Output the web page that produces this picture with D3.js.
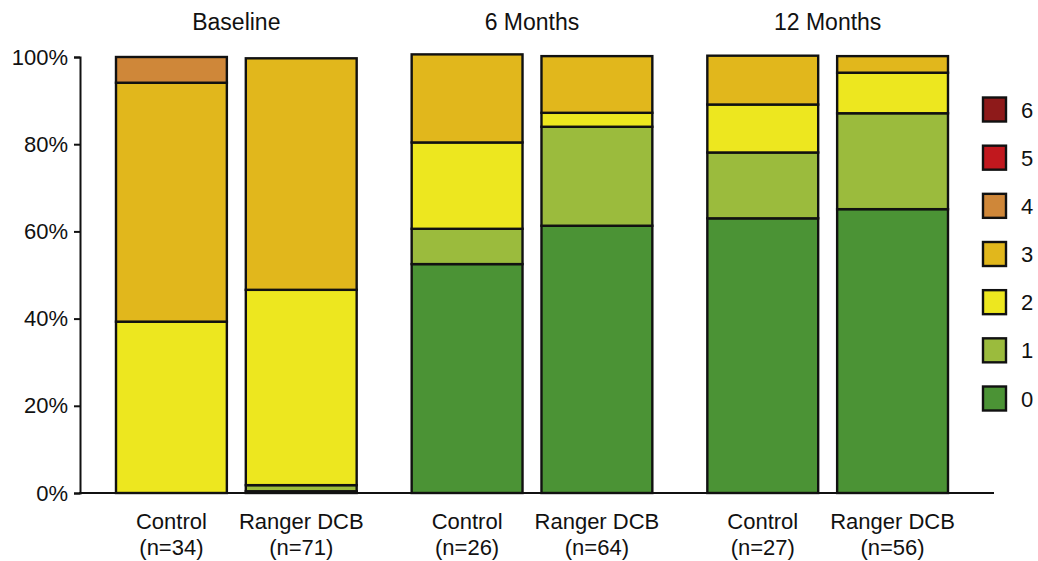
<!DOCTYPE html>
<html>
<head>
<meta charset="utf-8">
<script src="https://cdn.jsdelivr.net/npm/d3@7"></script>
<style>
  html, body { margin: 0; padding: 0; background: #fff; }
  svg text { font-family: "Liberation Sans", Arial, sans-serif; fill: #111; }
</style>
</head>
<body>
<svg id="chart" width="1038" height="561"></svg>
<script>
// Timepoints and treatment arms
const groups = ["Baseline", "6 Months", "12 Months"];
const arms = ["Control", "Ranger DCB"];
const armCounts = [
  ["(n=34)", "(n=71)"],
  ["(n=26)", "(n=64)"],
  ["(n=27)", "(n=56)"]
];

// Score categories, bottom of the stack first
const scores = ["0", "1", "2", "3", "4", "5", "6"];
const scoreColors = ["#4b9335", "#9bbb3d", "#ede71f", "#e1b71c", "#cf8739", "#c1181e", "#8e1a1a"];

// Percent of patients per score, one entry per bar:
// Baseline Control, Baseline Ranger, 6M Control, 6M Ranger, 12M Control, 12M Ranger
const score0 = [0, 0.4, 52.5, 61.3, 63.0, 65.1];
const score1 = [0, 1.4, 8.1, 22.7, 15.1, 22.0];
const score2 = [39.3, 44.8, 19.8, 3.2, 11.0, 9.3];
const score3 = [54.8, 53.1, 20.2, 13.0, 11.2, 3.8];
const score4 = [5.9, 0, 0, 0, 0, 0];
const score5 = [0, 0, 0, 0, 0, 0];
const score6 = [0, 0, 0, 0, 0, 0];

const yTicks = [0, 20, 40, 60, 80, 100];

const seriesValues = [score0, score1, score2, score3, score4, score5, score6];

// One row per bar for the stack layout
const rows = [];
groups.forEach((g, gi) => {
  arms.forEach((a, ai) => {
    const idx = gi * arms.length + ai;
    const row = { group: g, arm: a };
    scores.forEach((s, si) => { row[s] = seriesValues[si][idx]; });
    rows.push(row);
  });
});

const svg = d3.select("#chart");
const FS = 22;

const y = d3.scaleLinear().domain([0, 100]).range([493, 57]);
const x0 = d3.scaleBand().domain(groups).range([116, 948]).paddingInner(0.186).paddingOuter(0);
const x1 = d3.scaleBand().domain(arms).range([0, x0.bandwidth()]).paddingInner(0.146);

const stack = d3.stack().keys(scores);
const layers = stack(rows);

// Stacked bars
svg.append("g")
  .selectAll("g")
  .data(layers)
  .join("g")
  .attr("fill", (d, i) => scoreColors[i])
  .selectAll("rect")
  .data(d => d.filter(p => p[1] - p[0] > 0))
  .join("rect")
  .attr("x", p => x0(p.data.group) + x1(p.data.arm))
  .attr("y", p => y(p[1]))
  .attr("width", x1.bandwidth())
  .attr("height", p => y(p[0]) - y(p[1]))
  .attr("stroke", "#111")
  .attr("stroke-width", 2.4);

// Y axis
const yAxis = d3.axisLeft(y)
  .tickValues(yTicks)
  .tickFormat(d => d + "%")
  .tickSize(6)
  .tickPadding(6);

const yg = svg.append("g")
  .attr("transform", "translate(80,0)")
  .call(yAxis);
yg.select(".domain").attr("stroke", "#111").attr("stroke-width", 2);
yg.selectAll(".tick line").attr("stroke", "#111").attr("stroke-width", 2);
yg.selectAll(".tick text")
  .attr("font-size", FS)
  .attr("font-family", "Liberation Sans, Arial, sans-serif")
  .attr("fill", "#111");

// X baseline
svg.append("line")
  .attr("x1", 79).attr("x2", 994)
  .attr("y1", y(0)).attr("y2", y(0))
  .attr("stroke", "#111")
  .attr("stroke-width", 2);

// Group titles
svg.append("g")
  .selectAll("text")
  .data(groups)
  .join("text")
  .attr("x", g => x0(g) + x0.bandwidth() / 2)
  .attr("y", 30)
  .attr("text-anchor", "middle")
  .attr("font-size", 23)
  .text(g => g);

// Arm labels with sample sizes
const armLabels = svg.append("g");
groups.forEach((g, gi) => {
  arms.forEach((a, ai) => {
    const cx = x0(g) + x1(a) + x1.bandwidth() / 2;
    const t = armLabels.append("text")
      .attr("text-anchor", "middle")
      .attr("font-size", FS);
    t.append("tspan").attr("x", cx).attr("y", 529).text(a);
    t.append("tspan").attr("x", cx).attr("y", 555).text(armCounts[gi][ai]);
  });
});

// Legend, highest score on top
const legendScores = scores.slice().reverse();
const ly = d3.scalePoint().domain(legendScores).range([109.5, 398.5]);
const legend = svg.append("g");
legendScores.forEach(s => {
  const i = scores.indexOf(s);
  legend.append("rect")
    .attr("x", 983)
    .attr("y", ly(s) - 12)
    .attr("width", 23)
    .attr("height", 24)
    .attr("fill", scoreColors[i])
    .attr("stroke", "#111")
    .attr("stroke-width", 2.4);
  legend.append("text")
    .attr("x", 1021)
    .attr("y", ly(s) + 8)
    .attr("font-size", FS)
    .text(s);
});
</script>
</body>
</html>
